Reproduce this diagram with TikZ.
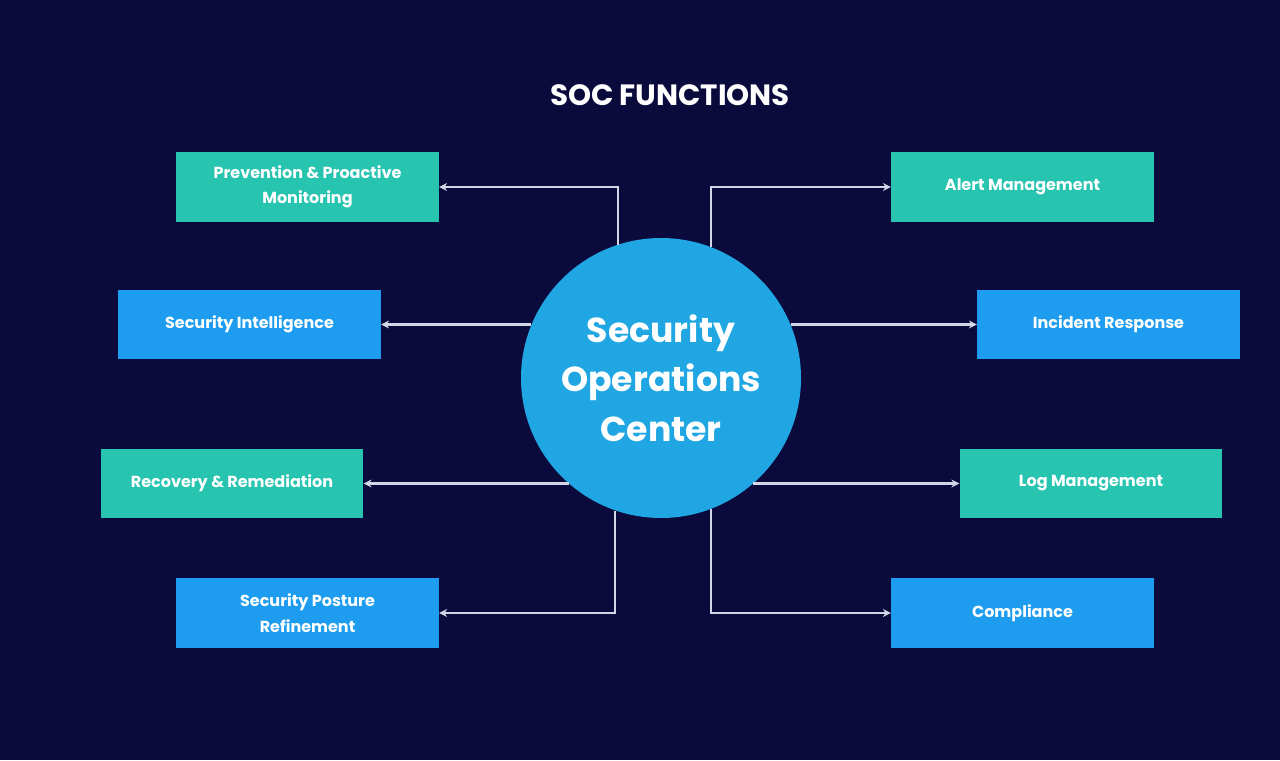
\documentclass[tikz,border=0pt]{standalone}
\usepackage{fontspec}
\setmainfont{Poppins}
\usetikzlibrary{arrows.meta}
\definecolor{bg}{HTML}{0B0A3D}
\definecolor{teal}{HTML}{27C4B0}
\definecolor{blu}{HTML}{1E9CEF}
\definecolor{circ}{HTML}{20A6E2}
\definecolor{ln}{HTML}{D4D6E6}
\tikzset{
 box/.style={minimum width=197pt,minimum height=52pt,inner sep=2pt,text=white,font=\fontsize{12}{19}\selectfont\bfseries,align=center},
 tbox/.style={box,fill=teal},
 bbox/.style={box,fill=blu},
 con/.style={draw=ln,line width=1.6pt,-{Stealth[length=6pt,width=6pt]}}
}
\begin{document}
\begin{tikzpicture}[x=0.75pt,y=-0.75pt]
\fill[bg] (0,0) rectangle (1280,760);
\useasboundingbox (0,0) rectangle (1280,760);
\node[text=white,font=\fontsize{22}{26}\selectfont\bfseries] (t) at (670,95) {SOC FUNCTIONS};
\node[circle,fill=circ,minimum size=210pt,inner sep=0pt,text=white,align=center,font=\fontsize{26}{37}\selectfont\bfseries] (c) at (661,378) {Security\\Operations\\Center};
\node[tbox] (p) at (307.5,187) {Prevention \& Proactive\\Monitoring};
\node[tbox] (a) at (1022.5,187) {Alert Management};
\node[bbox] (i) at (249.5,324.5) {Security Intelligence};
\node[bbox] (r) at (1108.5,324.5) {Incident Response};
\node[tbox] (rr) at (232,483.5) {Recovery \& Remediation};
\node[tbox] (l) at (1091,483.5) {Log Management};
\node[bbox] (s) at (307.5,613) {Security Posture\\Refinement};
\node[bbox] (co) at (1022.5,613) {Compliance};
\draw[con] (c.108) |- (p.east);
\draw[con] (c.69) |- (a.west);
\draw[con] (c.158 |- i.east) -- (i.east);
\draw[con] (c.22 |- r.west) -- (r.west);
\draw[con] (c.229 |- rr.east) -- (rr.east);
\draw[con] (c.311 |- l.west) -- (l.west);
\draw[con] (c.251) |- (s.east);
\draw[con] (c.291) |- (co.west);
\end{tikzpicture}
\end{document}
